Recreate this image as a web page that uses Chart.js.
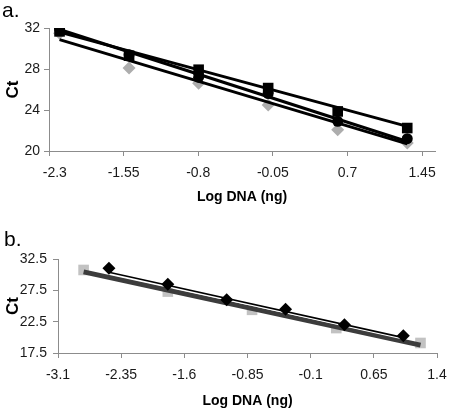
<!DOCTYPE html>
<html><head><meta charset="utf-8">
<script src="https://cdn.jsdelivr.net/npm/chart.js@4"></script>
<style>
html,body{margin:0;padding:0;background:#fff;width:450px;height:413px;overflow:hidden}
#ca{position:absolute;left:0;top:0}
#cb{position:absolute;left:0;top:205px}
</style></head><body>
<canvas id="ca" width="450" height="210"></canvas>
<canvas id="cb" width="450" height="208"></canvas>
<script>
// ---------- Panel a data ----------
const xA        = [-2.194, -1.495, -0.796, -0.097, 0.602, 1.301];
const squaresA  = [31.67, 29.3, 27.93, 26.14, 23.86, 22.24];
const circlesA  = [31.9, 29.4, 27.2, 25.6, 22.9, 21.2];
const diamondsA = [31.5, 28.1, 26.6, 24.5, 22.07, 20.77];
const fitXA        = [-2.194, 1.301];
const fitSquaresA  = [31.6, 22.4];
const fitCirclesA  = [31.85, 20.93];
const fitDiamondsA = [30.86, 20.7];
const xTicksA = [-2.3, -1.55, -0.8, -0.05, 0.7, 1.45];
const xTickLabelsA = ['   -2.3', '-1.55', '-0.8', '-0.05', '0.7', '1.45'];
const yTicksA = [20, 24, 28, 32];

// ---------- Panel b data ----------
const xSquaresB  = [-2.796, -1.796, -0.796, 0.204, 1.204];
const squaresB   = [30.75, 27.3, 24.39, 21.48, 19.1];
const xDiamondsB = [-2.495, -1.796, -1.097, -0.398, 0.301, 1.0];
const diamondsB  = [31.02, 28.48, 25.98, 24.5, 22.0, 20.26];
const fitXSquaresB  = [-2.796, 1.204];
const fitSquaresB   = [30.45, 18.75];
const fitXDiamondsB = [-2.495, 1.0];
const fitDiamondsB  = [30.4, 19.95];
const xTicksB = [-3.1, -2.35, -1.6, -0.85, -0.1, 0.65, 1.4];
const xTickLabelsB = ['-3.1', '-2.35', '-1.6', '-0.85', '-0.1', '0.65', '1.4'];
const yTicksB = [17.5, 22.5, 27.5, 32.5];

const FAMILY = '"Liberation Sans", Arial, Helvetica, sans-serif';
Chart.defaults.font.family = FAMILY;

const pts = (xs, ys) => xs.map((x, i) => ({x: x, y: ys[i]}));

const panelLabel = {
  id: 'panelLabel',
  afterDraw(chart, args, opts) {
    const ctx = chart.ctx;
    ctx.save();
    ctx.font = '21px ' + FAMILY;
    ctx.fillStyle = '#000';
    ctx.textBaseline = 'alphabetic';
    ctx.textAlign = 'left';
    ctx.fillText(opts.text, opts.x, opts.y);
    ctx.restore();
  }
};

function markers(data, style, radius, color, order) {
  return {data: data, showLine: false, pointStyle: style, pointRadius: radius,
    pointBackgroundColor: color, pointBorderColor: color, pointBorderWidth: 0, order: order};
}
function trend(data, color, width, order) {
  return {data: data, showLine: true, pointRadius: 0, borderColor: color,
    borderWidth: width, fill: false, order: order};
}

function scales(cfg) {
  return {
    x: {
      type: 'linear', min: cfg.xmin, max: cfg.xmax,
      afterBuildTicks: s => { s.ticks = cfg.xTicks.map(v => ({value: v})); },
      afterFit: s => { s.height = cfg.xh; s.paddingLeft = 0; s.paddingRight = 0; },
      ticks: {font: {size: 14}, color: '#1a1a1a', padding: 9, maxRotation: 0, autoSkip: false,
        callback: (v, i) => cfg.xLabels[i]},
      grid: {drawOnChartArea: false, drawTicks: true, tickLength: 5, color: '#8c8c8c'},
      border: {display: true, color: '#8c8c8c'},
      title: {display: true, text: 'Log DNA (ng)', color: '#000',
        font: {size: 14, weight: 'bold'}, padding: {top: 0, bottom: cfg.xtpad}}
    },
    y: {
      type: 'linear', min: cfg.ymin, max: cfg.ymax,
      afterBuildTicks: s => { s.ticks = cfg.yTicks.map(v => ({value: v})); },
      afterFit: s => { s.width = cfg.yw; s.paddingTop = 0; s.paddingBottom = 0; },
      ticks: {font: {size: 14}, color: '#1a1a1a', padding: cfg.ypad, autoSkip: false,
        callback: v => String(v)},
      grid: {drawOnChartArea: false, drawTicks: true, tickLength: 5, color: '#8c8c8c'},
      border: {display: true, color: '#8c8c8c'},
      title: {display: true, text: 'Ct', color: '#000',
        font: {size: 17, weight: 'bold'}, padding: {top: 3, bottom: 0}}
    }
  };
}

const common = {
  responsive: false, animation: false, events: [],
  plugins: {legend: {display: false}, tooltip: {enabled: false}}
};

new Chart(document.getElementById('ca'), {
  type: 'scatter',
  data: {datasets: [
    trend(pts(fitXA, fitSquaresA), '#000', 3, 1),
    trend(pts(fitXA, fitCirclesA), '#000', 3, 2),
    trend(pts(fitXA, fitDiamondsA), '#000', 3, 3),
    markers(pts(xA, squaresA), 'rect', 7.5, '#000', 4),
    markers(pts(xA, circlesA), 'circle', 5.5, '#000', 5),
    markers(pts(xA, diamondsA), 'rectRot', 6.5, '#adadad', 6)
  ]},
  options: Object.assign({}, common, {
    layout: {padding: {left: 0, top: 28, right: 15, bottom: 0}},
    scales: scales({xmin: -2.3, xmax: 1.58, ymin: 20, ymax: 32, xTicks: xTicksA, xLabels: xTickLabelsA,
      yTicks: yTicksA, xh: 59, yw: 49, xtpad: 4, ypad: 4}),
    plugins: Object.assign({}, common.plugins, {panelLabel: {text: 'a.', x: 2, y: 17}})
  }),
  plugins: [panelLabel]
});

new Chart(document.getElementById('cb'), {
  type: 'scatter',
  data: {datasets: [
    markers(pts(xDiamondsB, diamondsB), 'rectRot', 6.5, '#000', 1),
    trend(pts(fitXDiamondsB, fitDiamondsB), '#000', 1.6, 2),
    trend(pts(fitXDiamondsB, fitDiamondsB), '#fff', 4, 3),
    trend(pts(fitXSquaresB, fitSquaresB), '#3c3c3c', 5, 4),
    markers(pts(xSquaresB, squaresB), 'rect', 7.5, '#c2c2c2', 5)
  ]},
  options: Object.assign({}, common, {
    layout: {padding: {left: 0, top: 54, right: 13, bottom: 0}},
    scales: scales({xmin: -3.1, xmax: 1.4, ymin: 17.5, ymax: 32.5, xTicks: xTicksB, xLabels: xTickLabelsB,
      yTicks: yTicksB, xh: 60, yw: 58, xtpad: 3, ypad: 6}),
    plugins: Object.assign({}, common.plugins, {panelLabel: {text: 'b.', x: 4, y: 41}})
  }),
  plugins: [panelLabel]
});
</script>
</body></html>
